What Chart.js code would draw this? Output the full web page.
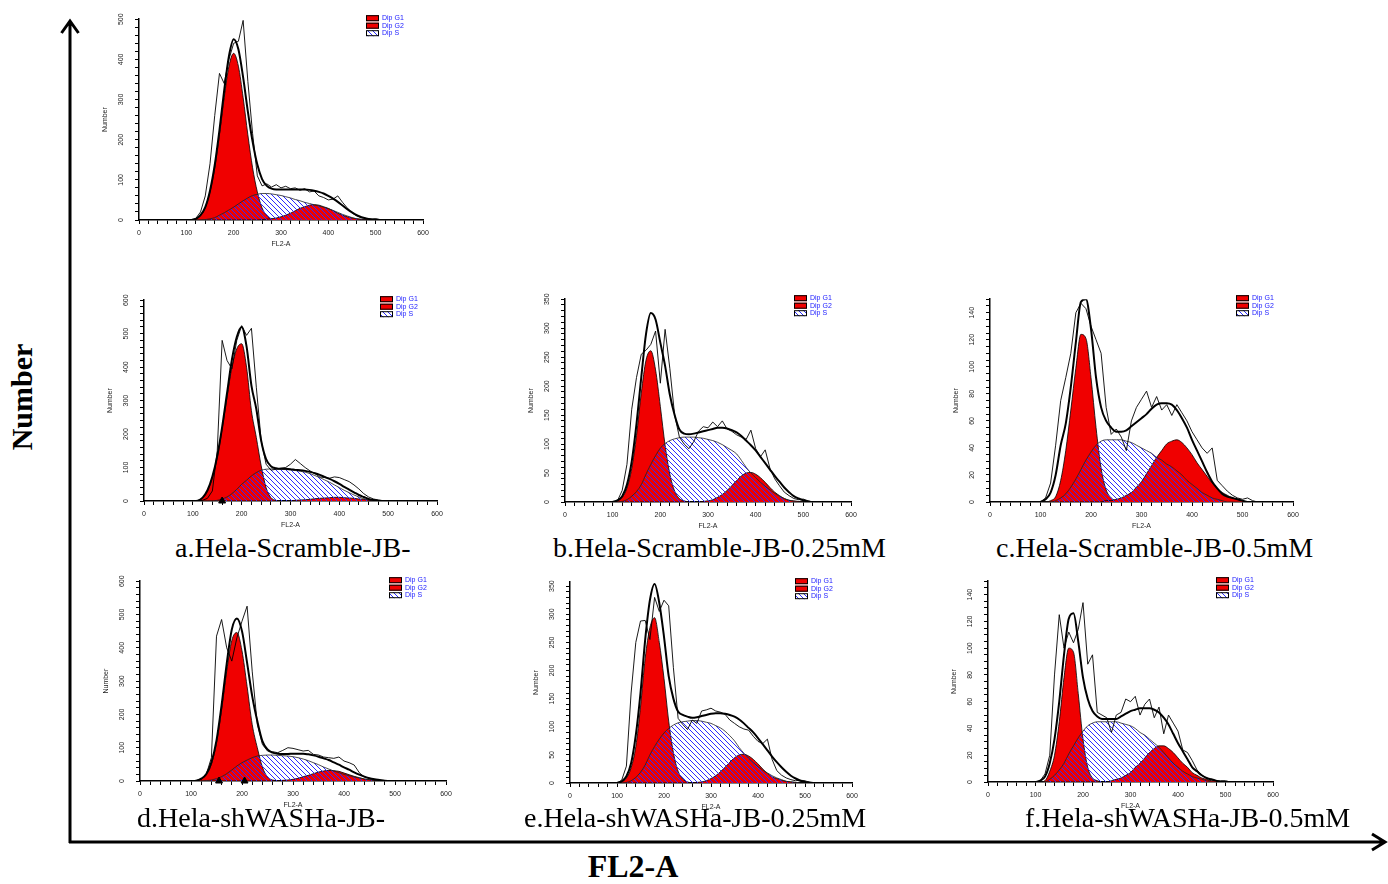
<!DOCTYPE html>
<html>
<head>
<meta charset="utf-8">
<script src="https://cdn.jsdelivr.net/npm/chart.js@4.4.1/dist/chart.umd.min.js"></script>
<style>
  body { margin: 0; background: #fff; }
  #page { position: relative; width: 1388px; height: 884px; overflow: hidden; background: #fff; }
  #page canvas { position: absolute; }
  .cap { position: absolute; font-family: "Liberation Serif", "Times New Roman", serif; font-size: 28px; line-height: 1; white-space: nowrap; color: #000; }
  .big { position: absolute; font-family: "Liberation Serif", "Times New Roman", serif; font-weight: bold; line-height: 1; white-space: nowrap; color: #000; }
</style>
</head>
<body>
<div id="page">
  <svg width="1388" height="884" style="position:absolute;left:0;top:0">
    <path d="M70 843 V21 M61.5 33 L70 21 L78.5 33" stroke="#000" stroke-width="3" fill="none"/>
    <path d="M69 842 H1385 M1372 834 L1385 842 L1372 850" stroke="#000" stroke-width="3" fill="none"/>
  </svg>
  <div class="big" style="left:22px;top:397px;font-size:30px;transform:translate(-50%,-50%) rotate(-90deg)">Number</div>
  <div class="big" style="left:633px;top:850px;font-size:32px;transform:translateX(-50%)">FL2-A</div>
</div>
<script>
// FL2-A channel (x positions shared by every series)
var fl2 = [100,110,120,130,140,150,160,170,180,190,200,210,220,230,240,250,260,270,280,290,300,310,320,330,340,350,360,370,380,390,400,410,420,430,440,450,460,470,480,490,500,510,520,530];

// top panel (no caption)
var rawTop = [0,1,4,20,60,140,260,365,340,400, 440,445,497,345,215,110,85,90,82,88, 80,84,78,80,74,78,70,72,60,56, 50,52,60,44,30,18,10,6,4,2, 3,1,0,0];
var fitTop = [0,0,3,12,32,73,137,224,323,408, 450,425,355,270,195,138,102,85,78,76, 76,76,76,76,76,76,75,73,70,66, 60,53,45,36,27,19,12,7,4,2, 1,0,0,0];
var g1Top = [0,0,3,11,30,70,130,212,305,383, 415,383,305,212,130,70,30,11,3,1, 0,0,0,0,0,0,0,0,0,0, 0,0,0,0,0,0,0,0,0,0, 0,0,0,0];
var g2Top = [0,0,0,0,0,0,0,0,0,0, 0,0,0,0,0,0,1,2,3,5, 8,12,17,23,29,33,37,38,37,33, 29,23,17,12,8,5,3,2,1,0, 0,0,0,0];
var sTop = [0,0,0,0,1,3,6,12,18,25, 32,40,48,55,61,64,66,66,65,63, 61,58,55,51,48,44,41,38,35,32, 28,24,19,14,10,6,3,1,0,0, 0,0,0,0];

// a.Hela-Scramble-JB-
var rawA = [0,0,2,8,30,150,480,420,395,480, 524,495,516,340,180,110,92,95,98,100, 110,124,112,100,90,82,72,70,68,72, 70,64,58,48,36,22,12,6,3,1, 0,0,0,0];
var fitA = [0,1,10,32,73,135,221,322,422,490, 520,462,345,275,180,125,104,98,96,96, 95,93,92,90,87,83,78,72,66,59, 51,42,34,26,18,12,6,3,1,0, 0,0,0,0];
var g1A = [0,1,10,30,70,130,215,310,400,455, 470,400,270,190,105,40,10,2,0,0, 0,0,0,0,0,0,0,0,0,0, 0,0,0,0,0,0,0,0,0,0, 0,0,0,0];
var g2A = [0,0,0,0,0,0,0,0,0,0, 0,0,0,0,0,0,0,0,0,0, 1,2,3,4,5,7,8,9,10,11, 11,10,9,8,6,5,3,2,1,0, 0,0,0,0];
var sA = [0,0,0,0,0,2,6,12,22,35, 50,62,75,85,92,95,96,96,95,94, 93,91,89,86,82,76,70,63,56,48, 40,32,25,18,12,7,3,1,0,0, 0,0,0,0];

// b.Hela-Scramble-JB-0.25mM
var rawB = [0,2,20,65,160,215,255,262,272,295, 205,298,230,150,112,100,92,104,122,130, 128,138,130,140,126,122,116,112,108,124, 92,78,90,58,40,28,17,11,6,4, 5,2,0,0];
var fitB = [0,3,10,30,70,135,215,290,326,315, 275,235,185,150,125,118,117,118,120,122, 124,126,128,128,127,124,120,114,106,98, 89,78,67,56,45,35,25,17,10,6, 3,1,0,0];
var g1B = [0,2,8,24,58,115,188,245,261,228, 165,98,48,19,6,2,0,0,0,0, 0,0,0,0,0,0,0,0,0,0, 0,0,0,0,0,0,0,0,0,0, 0,0,0,0];
var g2B = [0,0,0,0,0,0,0,0,0,0, 0,0,0,0,0,0,0,0,0,1, 2,4,8,13,20,28,37,45,50,51, 48,42,34,25,17,11,6,3,2,1, 0,0,0,0];
var sB = [0,0,1,4,10,18,30,48,65,80, 93,101,106,109,111,112,112,112,111,110, 108,106,103,99,94,89,83,72,60,50, 42,34,27,21,15,10,6,3,1,0, 0,0,0,0];

// c.Hela-Scramble-JB-0.5mM
var rawC = [0,3,14,42,75,92,110,140,147,143, 130,120,110,70,50,54,48,38,60,70, 76,82,70,78,68,72,64,72,66,60, 52,46,40,36,40,16,12,8,5,3, 2,3,1,0];
var fitC = [0,2,7,20,42,58,85,118,148,150, 128,92,70,60,55,52,52,53,56,59, 62,65,69,72,73,73,72,68,62,55, 46,38,30,22,15,10,6,4,3,2, 1,0,0,0];
var g1C = [0,0,1,4,16,38,68,99,124,121, 92,55,25,9,3,1,0,0,0,0, 0,0,0,0,0,0,0,0,0,0, 0,0,0,0,0,0,0,0,0,0, 0,0,0,0];
var g2C = [0,0,0,0,0,0,0,0,0,0, 0,0,0,1,1,2,3,5,7,11, 15,21,27,33,38,43,45,46,44,40, 35,29,24,19,14,10,7,5,3,2, 1,0,0,0];
var sC = [0,0,0,1,3,6,11,17,24,31, 37,42,45,46,46,46,46,45,44,42, 40,38,36,33,31,28,26,23,20,16, 13,10,7,5,3,2,1,0,0,0, 0,0,0,0];

// d.Hela-shWASHa-JB-
var rawD = [0,1,5,20,70,435,485,400,360,430, 480,525,330,170,110,90,88,85,92,100, 98,94,90,92,80,78,72,70,68,72, 60,55,48,25,12,8,4,2,1,1, 1,0,0,0];
var fitD = [0,1,7,21,56,122,228,352,455,488, 450,355,255,180,120,95,85,82,81,81, 82,82,82,80,77,73,68,63,56,49, 41,34,26,19,13,8,5,3,1,0, 0,0,0,0];
var g1D = [0,1,6,19,51,114,214,330,422,446, 391,284,170,100,42,12,3,1,0,0, 0,0,0,0,0,0,0,0,0,0, 0,0,0,0,0,0,0,0,0,0, 0,0,0,0];
var g2D = [0,0,0,0,0,0,0,0,0,0, 0,0,0,0,0,0,0,1,2,3, 5,8,13,17,22,27,30,32,31,29, 24,19,14,10,6,4,2,1,1,0, 0,0,0,0];
var sD = [0,0,0,1,3,7,13,22,33,45, 55,63,70,75,77,78,78,77,76,75, 73,70,66,61,55,49,42,36,30,25, 20,16,12,9,6,4,2,1,0,0, 0,0,0,0];

// e.Hela-shWASHa-JB-0.25mM
var rawE = [0,5,30,160,250,288,289,255,330,305, 325,315,205,115,104,95,112,106,128,130, 133,128,126,122,112,106,100,96,94,83, 74,70,78,42,22,14,9,6,4,5, 4,1,0,0];
var fitE = [0,3,12,35,85,160,255,325,354,320, 260,190,150,127,121,118,116,117,119,121, 123,124,124,123,121,118,113,106,98,90, 80,69,58,47,37,28,20,13,8,4, 2,1,0,0];
var g1E = [0,2,9,27,65,135,222,276,294,250, 186,110,54,21,7,2,0,0,0,0, 0,0,0,0,0,0,0,0,0,0, 0,0,0,0,0,0,0,0,0,0, 0,0,0,0];
var g2E = [0,0,0,0,0,0,0,0,0,0, 0,0,0,0,0,0,0,1,2,4, 8,13,20,28,37,45,50,51,48,42, 34,25,17,11,8,5,3,2,1,0, 0,0,0,0];
var sE = [0,0,1,4,10,19,32,50,65,78, 89,97,103,107,109,110,111,111,110,108, 106,102,98,92,84,75,63,53,44,36, 29,23,18,13,9,6,3,2,1,0, 0,0,0,0];

// f.Hela-shWASHa-JB-0.5mM
var rawF = [0,1,6,20,80,125,100,112,104,114, 134,88,95,52,50,48,37,50,52,62, 60,64,50,58,62,48,56,36,50,44, 38,24,22,16,9,5,3,2,1,1, 1,0,0,0];
var fitF = [0,1,4,14,32,60,95,122,126,105, 78,62,53,49,47,47,47,47,49,51, 53,54,55,55,55,54,52,48,43,36, 29,23,17,11,8,5,3,2,1,0, 0,0,0,0];
var g1F = [0,0,1,8,20,45,78,100,97,66, 32,11,3,1,0,0,0,0,0,0, 0,0,0,0,0,0,0,0,0,0, 0,0,0,0,0,0,0,0,0,0, 0,0,0,0];
var g2F = [0,0,0,0,0,0,0,0,0,0, 0,0,0,0,0,0,1,2,3,5, 7,11,14,18,22,25,27,27,25,22, 18,14,11,7,5,3,2,1,1,0, 0,0,0,0];
var sF = [0,0,0,2,5,9,14,21,27,33, 38,42,44,45,45,45,45,45,44,43, 42,40,37,35,32,29,26,22,18,14, 11,8,6,4,3,2,1,0,0,0, 0,0,0,0];

// gate markers under the x axis
var marksA = [160];
var marksD = [155, 205];

var legendNames = ['Dip G1', 'Dip G2', 'Dip S'];
var captions = ['a.Hela-Scramble-JB-', 'b.Hela-Scramble-JB-0.25mM', 'c.Hela-Scramble-JB-0.5mM',
                'd.Hela-shWASHa-JB-', 'e.Hela-shWASHa-JB-0.25mM', 'f.Hela-shWASHa-JB-0.5mM'];

var panels = [
    { raw: rawTop, fit: fitTop, g1: g1Top, g2: g2Top, s: sTop, yMax: 500, yStep: 20, yLabel: 100, marks: [] },
    { raw: rawA, fit: fitA, g1: g1A, g2: g2A, s: sA, yMax: 600, yStep: 20, yLabel: 100, marks: marksA },
    { raw: rawB, fit: fitB, g1: g1B, g2: g2B, s: sB, yMax: 350, yStep: 10, yLabel: 50, marks: [] },
    { raw: rawC, fit: fitC, g1: g1C, g2: g2C, s: sC, yMax: 150, yStep: 5, yLabel: 20, marks: [] },
    { raw: rawD, fit: fitD, g1: g1D, g2: g2D, s: sD, yMax: 600, yStep: 20, yLabel: 100, marks: marksD },
    { raw: rawE, fit: fitE, g1: g1E, g2: g2E, s: sE, yMax: 357, yStep: 10, yLabel: 50, marks: [] },
    { raw: rawF, fit: fitF, g1: g1F, g2: g2F, s: sF, yMax: 150, yStep: 5, yLabel: 20, marks: [] }
];

// plot area of each panel on the page: left, top, width, height
var plotBoxes = [[139, 15, 284, 205], [144, 296, 293, 205], [565, 295, 286, 207], [990, 295, 303, 207],
                 [140, 577, 306, 204], [570, 578, 282, 205], [988, 577, 285, 205]];
// caption left edge and top
var capPos = [[175, 534], [553, 534], [996, 534], [137, 804], [524, 804], [1025, 804]];

var Y_W = 40, X_H = 29, PAD_T = 8, PAD_R = 12;
var RED = '#f00000';

function pts(ys) {
    return fl2.map(function (x, i) { return { x: x, y: ys[i] }; });
}

function hatchPattern(ctx) {
    var c = document.createElement('canvas');
    c.width = 5; c.height = 5;
    var g = c.getContext('2d');
    g.strokeStyle = '#2b2bff';
    g.lineWidth = 1;
    g.beginPath();
    g.moveTo(0, 0); g.lineTo(5, 5);
    g.moveTo(-1, 4); g.lineTo(1, 6);
    g.moveTo(4, -1); g.lineTo(6, 1);
    g.stroke();
    return ctx.createPattern(c, 'repeat');
}

var cornerLegend = {
    id: 'cornerLegend',
    afterDraw: function (chart) {
        var ctx = chart.ctx, area = chart.chartArea;
        var x = area.right - 57, y0 = area.top - 1;
        ctx.save();
        ctx.font = '7px "Liberation Sans", Arial, sans-serif';
        ctx.textBaseline = 'middle';
        legendNames.forEach(function (name, i) {
            var ds = chart.data.datasets.filter(function (d) { return d.label === name; })[0];
            var y = y0 + i * 7.5;
            ctx.fillStyle = '#fff';
            ctx.fillRect(x, y - 3, 13, 6);
            ctx.fillStyle = ds.backgroundColor;
            ctx.fillRect(x, y - 3, 13, 6);
            ctx.strokeStyle = '#000';
            ctx.lineWidth = 1;
            ctx.strokeRect(x + 0.5, y - 2.5, 12, 5);
            ctx.fillStyle = '#2020ff';
            ctx.fillText(name, x + 16, y);
        });
        ctx.restore();
    }
};

document.addEventListener('DOMContentLoaded', function () {
    Chart.defaults.font.family = '"Liberation Sans", Arial, sans-serif';
    var page = document.getElementById('page');

    panels.forEach(function (p, k) {
        var b = plotBoxes[k];
        var cv = document.createElement('canvas');
        cv.width = Y_W + b[2] + PAD_R;
        cv.height = PAD_T + b[3] + X_H;
        cv.style.left = (b[0] - Y_W) + 'px';
        cv.style.top = (b[1] - PAD_T) + 'px';
        page.appendChild(cv);
        var ctx = cv.getContext('2d');

        new Chart(ctx, {
            type: 'line',
            data: {
                datasets: [
                    { label: 'Fit', data: pts(p.fit), borderColor: '#000', borderWidth: 2, pointRadius: 0,
                      cubicInterpolationMode: 'monotone', fill: false, order: 0 },
                    { label: 'Raw', data: pts(p.raw), borderColor: '#000', borderWidth: 0.9, pointRadius: 0,
                      tension: 0, fill: false, order: 1 },
                    { label: 'Dip S', data: pts(p.s), borderColor: '#222', borderWidth: 0.8, pointRadius: 0,
                      cubicInterpolationMode: 'monotone', backgroundColor: hatchPattern(ctx), fill: 'origin', order: 2 },
                    { label: 'Dip G2', data: pts(p.g2), borderColor: '#000', borderWidth: 0.8, pointRadius: 0,
                      cubicInterpolationMode: 'monotone', backgroundColor: RED, fill: 'origin', order: 3 },
                    { label: 'Dip G1', data: pts(p.g1), borderColor: '#000', borderWidth: 0.8, pointRadius: 0,
                      cubicInterpolationMode: 'monotone', backgroundColor: RED, fill: 'origin', order: 4 },
                    { label: 'gate', data: p.marks.map(function (m) { return { x: m, y: 0 }; }), showLine: false,
                      pointStyle: 'triangle', pointRadius: 4, pointBackgroundColor: '#000', pointBorderColor: '#000',
                      clip: false, order: -1 }
                ]
            },
            options: {
                responsive: false,
                animation: false,
                devicePixelRatio: 1,
                events: [],
                layout: { padding: { top: PAD_T, right: PAD_R, left: 0, bottom: 0 } },
                plugins: { legend: { display: false }, tooltip: { enabled: false } },
                scales: {
                    x: {
                        type: 'linear', min: 0, max: 600,
                        afterFit: function (s) { s.height = X_H; },
                        border: { color: '#000', width: 1.5 },
                        grid: { drawOnChartArea: false, tickLength: 4, tickColor: '#000', tickWidth: 1 },
                        ticks: {
                            stepSize: 20, autoSkip: false, maxRotation: 0, padding: 5, color: '#222',
                            font: { size: 7 },
                            callback: function (v) { return v % 100 === 0 ? v : ''; }
                        },
                        title: { display: true, text: 'FL2-A', color: '#222', font: { size: 7 }, padding: { top: 0, bottom: 1 } }
                    },
                    y: {
                        min: 0, max: p.yMax,
                        afterFit: function (s) { s.width = Y_W; },
                        border: { color: '#000', width: 1.5 },
                        grid: { drawOnChartArea: false, tickLength: 4, tickColor: '#000', tickWidth: 1 },
                        ticks: {
                            stepSize: p.yStep, autoSkip: false, includeBounds: false, maxTicksLimit: 200,
                            minRotation: 90, maxRotation: 90, crossAlign: 'center', padding: 8, color: '#222',
                            font: { size: 7 },
                            callback: function (v) { return v % p.yLabel === 0 ? v : ''; }
                        },
                        title: { display: true, text: 'Number', color: '#222', font: { size: 7 }, padding: { top: 2, bottom: 0 } }
                    }
                }
            },
            plugins: [cornerLegend]
        });
    });

    captions.forEach(function (t, i) {
        var d = document.createElement('div');
        d.className = 'cap';
        d.textContent = t;
        d.style.left = capPos[i][0] + 'px';
        d.style.top = capPos[i][1] + 'px';
        page.appendChild(d);
    });
});
</script>
</body>
</html>
